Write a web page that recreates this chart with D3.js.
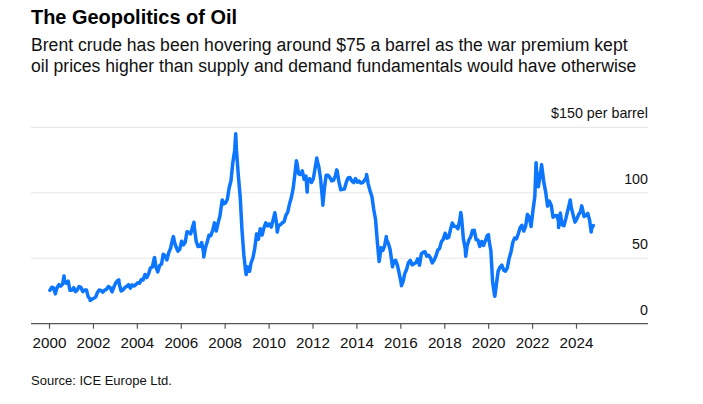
<!DOCTYPE html>
<html>
<head>
<meta charset="utf-8">
<script src="https://cdn.jsdelivr.net/npm/d3@7"></script>
<style>
  html, body { margin: 0; padding: 0; background: #fff; }
  svg { display: block; font-family: "Liberation Sans", Arial, Helvetica, sans-serif; }
</style>
</head>
<body>
<svg id="chart" width="703" height="404"></svg>
<script>
// ---------- DATA ----------
const title = "The Geopolitics of Oil";
const subtitleLines = [
  "Brent crude has been hovering around $75 a barrel as the war premium kept",
  "oil prices higher than supply and demand fundamentals would have otherwise"
];
const source = "Source: ICE Europe Ltd.";

// Monthly Brent prices ($/barrel), Jan 2000 .. Oct 2024
const startYear = 2000;
const monthlyPrices = [
  // 2000
  25.5, 27.8, 27.5, 22.8, 27.6, 29.8, 28.7, 30.2, 33.1, 30.9, 32.5, 25.5,
  // 2001
  25.6, 27.5, 24.5, 25.7, 28.4, 27.7, 24.5, 25.7, 25.7, 20.5, 18.9, 18.6,
  // 2002
  19.4, 20.3, 23.7, 25.7, 25.4, 24.1, 25.7, 26.3, 28.4, 27.5, 24.3, 28.0,
  // 2003
  31.2, 32.8, 30.3, 25.0, 25.8, 27.6, 28.4, 29.8, 27.1, 29.6, 28.8, 29.8,
  // 2004
  31.2, 30.9, 33.8, 33.4, 37.6, 35.2, 38.2, 42.7, 43.2, 49.8, 43.1, 39.6,
  // 2005
  44.5, 45.5, 53.1, 51.9, 48.7, 54.3, 57.5, 64.1, 62.9, 58.5, 55.4, 56.9,
  // 2006
  63.0, 60.2, 62.1, 70.3, 69.8, 68.6, 73.7, 73.2, 62.8, 58.9, 59.1, 62.0,
  // 2007
  54.5, 58.0, 62.1, 67.5, 67.2, 71.1, 77.0, 70.8, 77.2, 82.4, 92.5, 91.5,
  // 2008
  92.2, 95.0, 103.6, 109.1, 122.8, 132.3, 132.7, 113.2, 97.2, 71.6, 52.5, 40.0,
  // 2009
  43.4, 43.0, 46.5, 50.2, 57.3, 68.6, 64.4, 72.5, 67.7, 73.2, 77.0, 74.7,
  // 2010
  76.2, 73.8, 78.8, 84.8, 75.9, 74.8, 75.6, 77.0, 77.8, 82.7, 85.3, 91.5,
  // 2011
  96.5, 103.7, 114.6, 123.3, 114.5, 113.9, 116.7, 110.2, 112.8, 109.6, 110.8, 107.9,
  // 2012
  110.7, 119.3, 125.5, 119.8, 110.3, 95.2, 102.6, 113.4, 113.4, 111.7, 109.1, 109.5,
  // 2013
  112.9, 116.5, 108.5, 102.3, 102.6, 102.9, 107.9, 111.3, 111.6, 109.1, 107.8, 110.8,
  // 2014
  108.1, 108.9, 107.5, 107.8, 109.5, 111.8, 106.8, 101.6, 97.1, 87.4, 79.4, 62.3,
  // 2015
  47.8, 58.1, 55.9, 59.5, 64.6, 61.5, 56.6, 46.5, 47.6, 48.4, 44.3, 38.0,
  // 2016
  30.7, 32.2, 38.2, 41.6, 46.7, 48.3, 44.9, 45.8, 46.6, 49.5, 44.7, 53.3,
  // 2017
  54.6, 54.9, 51.6, 52.3, 50.3, 46.4, 48.5, 51.7, 56.2, 57.5, 62.7, 64.4,
  // 2018
  69.1, 65.3, 66.0, 72.1, 76.9, 74.4, 74.3, 72.5, 78.9, 81.0, 64.8, 57.4,
  // 2019
  59.4, 64.0, 66.1, 71.2, 71.3, 64.2, 63.9, 59.0, 62.8, 59.7, 63.2, 67.3,
  // 2020
  63.7, 55.7, 32.0, 22.0, 29.4, 40.3, 43.2, 44.7, 40.9, 40.2, 42.7, 49.9,
  // 2021
  54.8, 62.3, 65.4, 64.8, 68.5, 73.2, 75.2, 70.8, 74.5, 83.5, 81.1, 74.2,
  // 2022
  86.5, 97.1, 117.3, 104.6, 113.3, 118.7, 107.9, 100.5, 89.8, 93.6, 90.4, 81.3,
  // 2023
  82.5, 82.6, 78.4, 84.6, 75.5, 74.8, 80.1, 86.2, 92.0, 88.6, 82.9, 77.6,
  // 2024
  80.1, 83.5, 85.4, 88.2, 81.8, 82.6, 84.3, 78.9, 72.3, 75.0
];

// Notable daily highs / lows
const extremeDates = [
  "2000-09-07", "2001-11-15", "2003-03-07", "2004-10-22", "2005-09-01",
  "2006-08-08", "2007-01-18", "2007-11-21", "2008-07-03", "2008-12-24",
  "2009-02-18", "2010-05-25", "2011-04-08", "2011-10-04", "2012-03-13",
  "2012-06-21", "2013-02-08", "2014-06-19", "2015-01-13", "2015-05-13",
  "2015-08-24", "2016-01-20", "2018-10-03", "2018-12-24", "2020-01-06",
  "2020-04-21", "2022-03-08", "2022-06-08", "2023-03-17", "2023-09-27",
  "2024-04-05", "2024-09-10"
];
const extremeValues = [
  36.5, 17.7, 33.5, 50.5, 66.5,
  77.5, 51.0, 94.5, 145.0, 37.5,
  40.0, 70.0, 124.5, 100.5, 126.5,
  90.5, 117.5, 114.0, 47.5, 66.5,
  43.5, 29.0, 85.0, 51.5, 68.0,
  21.0, 123.0, 121.5, 73.5, 94.5,
  90.0, 70.0
];

const xTickYears = [2000, 2002, 2004, 2006, 2008, 2010, 2012, 2014, 2016, 2018, 2020, 2022, 2024];
const yTickValues = [0, 50, 100, 150];
const yTickLabels = ["0", "50", "100", "$150 per barrel"];

// ---------- BUILD ----------
const parse = d3.timeParse("%Y-%m-%d");
let series = monthlyPrices.map((v, i) => ({
  date: new Date(startYear + Math.floor(i / 12), i % 12, 15),
  value: v
}));
extremeDates.forEach((d, i) => series.push({ date: parse(d), value: extremeValues[i] }));
series.sort((a, b) => a.date - b.date);

const svg = d3.select("#chart");
const plotLeft = 31, plotRight = 648;

const x = d3.scaleTime()
  .domain([new Date(2000, 0, 1), new Date(2024, 0, 1)])
  .range([49, 576]);
const y = d3.scaleLinear().domain([0, 150]).range([323.7, 127.3]);

// Title & subtitle
svg.append("text").attr("x", 31).attr("y", 24)
  .attr("font-size", 20.5).attr("font-weight", "bold").attr("fill", "#000")
  .attr("textLength", 206).attr("lengthAdjust", "spacingAndGlyphs")
  .text(title);
subtitleLines.forEach((t, i) => {
  svg.append("text").attr("x", 31).attr("y", 51 + i * 21)
    .attr("font-size", 17.6).attr("fill", "#111")
    .text(t);
});

// Gridlines
svg.append("g").selectAll("line")
  .data(yTickValues.filter(v => v > 0))
  .join("line")
  .attr("x1", plotLeft).attr("x2", plotRight)
  .attr("y1", d => y(d)).attr("y2", d => y(d))
  .attr("stroke", "#e8e8e8").attr("stroke-width", 1.2);

// Y labels
svg.append("g").selectAll("text")
  .data(yTickValues)
  .join("text")
  .attr("x", plotRight)
  .attr("y", d => y(d) - 9)
  .attr("text-anchor", "end")
  .attr("font-size", 14.3)
  .attr("fill", "#111")
  .text((d, i) => yTickLabels[i]);

// X axis
const xAxis = d3.axisBottom(x)
  .tickValues(xTickYears.map(yr => new Date(yr, 0, 1)))
  .tickFormat(d3.timeFormat("%Y"))
  .tickSize(5)
  .tickPadding(9);
const gx = svg.append("g").attr("transform", `translate(0,${y(0)})`).call(xAxis);
gx.select(".domain").remove();
gx.selectAll(".tick line").attr("stroke", "#555").attr("stroke-width", 1.2);
gx.selectAll(".tick text").attr("font-size", 15.2).attr("fill", "#111")
  .attr("font-family", "'Liberation Sans', Arial, sans-serif");
svg.append("line")
  .attr("x1", plotLeft).attr("x2", plotRight)
  .attr("y1", y(0)).attr("y2", y(0))
  .attr("stroke", "#555").attr("stroke-width", 1.3);

// Line
const line = d3.line().x(d => x(d.date)).y(d => y(d.value)).curve(d3.curveLinear);
svg.append("path").datum(series)
  .attr("d", line)
  .attr("fill", "none")
  .attr("stroke", "#0d76ff")
  .attr("stroke-width", 3.5)
  .attr("stroke-linejoin", "round")
  .attr("stroke-linecap", "round");

// Source
svg.append("text").attr("x", 31).attr("y", 385)
  .attr("font-size", 13).attr("fill", "#111")
  .text(source);
</script>
</body>
</html>
